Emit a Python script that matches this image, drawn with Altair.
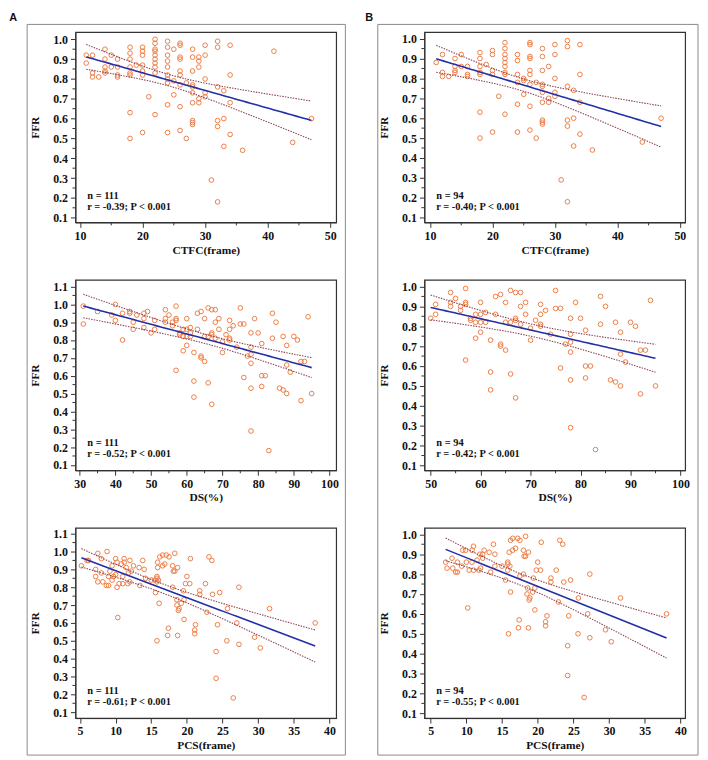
import altair as alt
import numpy as np
import pandas as pd

# ---------------- data ----------------
# Panel A1: CTFC vs FFR (n = 111)
a1_ctfc = [11, 11, 12, 12, 12, 13, 14, 14, 14, 14, 14, 15, 15, 16, 16, 16, 16,
           18, 18, 18, 18, 18, 18, 18, 18, 19, 20, 20, 20, 20, 20, 20, 20, 21,
           22, 22, 22, 22, 22, 22, 22, 22, 22, 22,
           24, 24, 24, 24, 24, 24, 24, 24, 24, 24,
           25, 25, 25, 26, 26, 26, 26, 26, 26, 26, 26, 26, 27, 27,
           28, 28, 28, 28, 28, 28, 28, 28, 28, 28, 29, 29, 29, 29, 29, 30, 30, 30, 30, 30,
           31, 32, 32, 32, 32, 32, 32, 33, 33, 33, 34, 34, 34, 34, 36, 41, 44, 47]
a1_ffr = [0.92, 0.88, 0.92, 0.83, 0.81, 0.81, 0.95, 0.90, 0.86, 0.84, 0.83, 0.92, 0.86, 0.90, 0.86, 0.82, 0.81,
          0.96, 0.93, 0.90, 0.86, 0.83, 0.82, 0.63, 0.50, 0.87, 0.96, 0.94, 0.92, 0.87, 0.84, 0.82, 0.53, 0.71,
          1.00, 0.98, 0.95, 0.94, 0.92, 0.90, 0.88, 0.86, 0.83, 0.62,
          0.99, 0.96, 0.92, 0.89, 0.86, 0.82, 0.80, 0.78, 0.67, 0.53,
          0.95, 0.79, 0.72, 0.98, 0.97, 0.91, 0.90, 0.84, 0.82, 0.77, 0.66, 0.54, 0.78, 0.50,
          0.95, 0.91, 0.84, 0.77, 0.76, 0.73, 0.68, 0.59, 0.58, 0.57, 0.91, 0.89, 0.86, 0.70, 0.68,
          0.97, 0.92, 0.80, 0.73, 0.71,
          0.29, 0.99, 0.96, 0.76, 0.59, 0.56, 0.18, 0.74, 0.60, 0.46, 0.97, 0.82, 0.68, 0.52, 0.44, 0.94, 0.48, 0.60]

# Panel B1: CTFC vs FFR (n = 94)
b1_ctfc = [11, 12, 12, 12, 13, 14, 14, 14, 14, 15, 15, 16, 16, 16,
           18, 18, 18, 18, 18, 18, 18, 19, 20, 20, 20, 20, 20, 21,
           22, 22, 22, 22, 22, 22, 22, 22, 22,
           24, 24, 24, 24, 24, 24, 25, 25, 25,
           26, 26, 26, 26, 26, 26, 26, 26, 26, 27, 27,
           28, 28, 28, 28, 28, 28, 28, 28, 28, 28, 29, 29, 29, 30, 30, 30, 30, 30,
           31, 32, 32, 32, 32, 32, 32, 33, 33, 33, 34, 34, 34, 34, 36, 44, 47]
b1_ffr = [0.88, 0.92, 0.83, 0.81, 0.81, 0.90, 0.86, 0.84, 0.83, 0.92, 0.86, 0.86, 0.82, 0.81,
          0.93, 0.90, 0.86, 0.83, 0.82, 0.63, 0.50, 0.87, 0.94, 0.92, 0.84, 0.82, 0.53, 0.71,
          0.98, 0.95, 0.92, 0.90, 0.88, 0.86, 0.83, 0.82, 0.62,
          0.92, 0.89, 0.82, 0.78, 0.67, 0.53, 0.80, 0.79, 0.72,
          0.98, 0.97, 0.91, 0.90, 0.84, 0.82, 0.77, 0.66, 0.54, 0.78, 0.50,
          0.95, 0.91, 0.84, 0.77, 0.76, 0.73, 0.68, 0.59, 0.58, 0.57, 0.86, 0.70, 0.68,
          0.97, 0.92, 0.80, 0.73, 0.71,
          0.29, 0.99, 0.96, 0.76, 0.59, 0.56, 0.18, 0.74, 0.60, 0.46, 0.97, 0.82, 0.68, 0.52, 0.44, 0.48, 0.60]

# Panel A2: DS vs FFR (n = 111)
a2_ds = [31, 31, 35, 39, 40, 40, 42, 42, 44, 44, 45, 45, 46, 48, 48, 48, 49,
         50, 51, 51, 54, 54, 54, 55, 56, 56, 57, 57, 57, 57, 58, 58, 59, 59, 59,
         60, 60, 60, 60, 61, 61, 61, 62, 62, 62, 63, 63, 64, 64, 64, 65, 65, 65,
         66, 66, 66, 67, 67, 67, 67, 68, 68, 68, 69, 69, 70, 70, 71, 72, 72, 72, 72,
         73, 74, 75, 75, 76, 76, 77, 78, 78, 78, 78, 78, 78, 79, 80, 81, 81, 81, 82, 83,
         84, 84, 85, 86, 87, 87, 88, 88, 88, 89, 90, 91, 92, 92, 93, 94, 95]
a2_ffr = [0.99, 0.89, 0.96, 0.94, 1.00, 0.91, 0.95, 0.80, 0.96, 0.95, 0.90, 0.86, 0.94, 0.95, 0.92, 0.87, 0.96,
          0.84, 0.91, 0.86, 0.97, 0.92, 0.90, 0.94, 0.90, 0.88, 0.99, 0.92, 0.91, 0.63, 0.84, 0.83, 0.86, 0.82, 0.74,
          0.92, 0.86, 0.82, 0.77, 0.87, 0.84, 0.82, 0.73, 0.57, 0.48, 0.95, 0.86, 0.96, 0.71, 0.70, 0.92, 0.82, 0.68,
          0.98, 0.82, 0.56, 0.97, 0.84, 0.83, 0.44, 0.97, 0.90, 0.81, 0.92, 0.86, 0.79, 0.73, 0.83,
          0.91, 0.86, 0.81, 0.80,
          0.88, 0.76, 0.98, 0.89, 0.89, 0.59, 0.71, 0.84, 0.76, 0.72, 0.67, 0.53, 0.29, 0.92, 0.84,
          0.78, 0.60, 0.54, 0.60, 0.18,
          0.95, 0.81, 0.90, 0.53, 0.82, 0.52, 0.77, 0.66, 0.50, 0.62, 0.82, 0.80, 0.68, 0.46, 0.68, 0.93, 0.50]

# Panel B2: DS vs FFR (n = 94)
b2_ds = [50, 51, 51, 54, 54, 54, 55, 56, 56, 57, 57, 57, 57, 58, 58, 59, 59, 59,
         60, 60, 60, 60, 61, 61, 62, 62, 62, 63, 63, 64, 64, 64, 65, 65, 65,
         66, 66, 66, 67, 67, 67, 67, 68, 68, 68, 69, 69, 70, 70, 71, 72, 72, 72, 72,
         73, 74, 75, 75, 76, 76, 77, 78, 78, 78, 78, 78, 78, 79, 80, 81, 81, 81, 82, 83,
         84, 84, 85, 86, 87, 87, 88, 88, 88, 89, 90, 91, 92, 92, 93, 94, 95]
b2_ffr = [0.84, 0.91, 0.86, 0.97, 0.92, 0.90, 0.94, 0.90, 0.88, 0.99, 0.92, 0.91, 0.63, 0.84, 0.83, 0.86, 0.82, 0.74,
          0.92, 0.86, 0.82, 0.77, 0.87, 0.82, 0.73, 0.57, 0.48, 0.95, 0.86, 0.96, 0.71, 0.70, 0.92, 0.82, 0.68,
          0.98, 0.82, 0.56, 0.97, 0.84, 0.83, 0.44, 0.97, 0.90, 0.81, 0.92, 0.86, 0.79, 0.73, 0.83, 0.91, 0.86, 0.81, 0.80,
          0.88, 0.76, 0.98, 0.89, 0.89, 0.59, 0.71, 0.84, 0.76, 0.72, 0.67, 0.53, 0.29, 0.92, 0.84, 0.78, 0.60, 0.54, 0.60, 0.18,
          0.95, 0.81, 0.90, 0.53, 0.82, 0.52, 0.77, 0.66, 0.50, 0.62, 0.82, 0.80, 0.68, 0.46, 0.68, 0.93, 0.50]

# Panel A3: PCS vs FFR (n = 111)
a3_pcs = [5.2, 6.0, 6.2, 7.2, 7.2, 7.5, 7.5, 8.0, 8.0, 8.2, 8.7, 8.8, 9.0, 9.0, 9.2, 9.5, 9.5, 9.7,
          10.0, 10.0, 10.2, 10.2, 10.3, 10.5, 10.8, 11.0, 11.0, 11.2, 11.2, 11.5, 11.7, 11.8, 12.0, 12.0,
          12.2, 12.5, 13.3, 13.4, 13.8, 14.0, 14.2, 15.0, 15.5, 15.6, 15.8, 15.8, 15.8, 15.8, 15.9, 15.9,
          16.0, 16.1, 16.2, 16.6, 16.6, 16.9, 17.1, 17.3, 17.4, 17.5, 18.0, 18.0, 18.1, 18.3, 18.3,
          18.6, 18.6, 18.7, 18.7, 18.8, 18.9, 19.2, 19.5, 19.6, 19.6, 19.8, 20.0, 20.4, 20.5,
          21.1, 21.1, 21.2, 21.8, 21.8, 22.6, 22.8, 23.1, 23.5, 23.6, 24.1, 24.1, 24.3, 24.6,
          25.6, 25.7, 26.5, 27.0, 27.3, 27.3, 29.5, 30.3, 31.6, 38.0]
a3_ffr = [0.92, 0.95, 0.95, 0.90, 0.86, 0.83, 0.99, 0.96, 0.88, 0.83, 0.81, 1.00, 0.81, 0.86, 0.89, 0.84, 0.92, 0.86,
          0.96, 0.87, 0.94, 0.80, 0.63, 0.82, 0.93, 0.86, 0.82, 0.96, 0.94, 0.91, 0.82, 0.88, 0.95, 0.83,
          0.89, 0.92, 0.91, 0.81, 0.95, 0.90, 0.85, 0.84, 0.84, 0.77, 0.86, 0.85, 0.83, 0.50, 0.94, 0.91,
          0.84, 0.71, 0.97, 0.98, 0.92, 0.93, 0.98, 0.53, 0.57, 0.97, 0.80, 0.92, 0.89, 0.99, 0.89,
          0.73, 0.70, 0.91, 0.53, 0.67, 0.68, 0.71, 0.78, 0.73, 0.62, 0.82, 0.86, 0.82, 0.96,
          0.56, 0.54, 0.59, 0.78, 0.76, 0.82, 0.66, 0.97, 0.95, 0.76, 0.44, 0.29, 0.59, 0.77,
          0.50, 0.68, 0.18, 0.60, 0.80, 0.48, 0.52, 0.46, 0.68, 0.60]

# Panel B3: PCS vs FFR (n = 94)
b3_pcs = [7.1, 7.3, 8.0, 8.1, 8.5, 8.75, 8.75, 9.35, 9.5, 9.9, 10.0, 10.2, 10.4, 10.8, 10.8, 11.0, 11.0,
          11.5, 11.75, 11.9, 12.0, 12.3, 12.3, 12.5, 13.2, 13.4, 13.8, 14.0, 14.0, 15.0, 15.5,
          15.8, 15.8, 15.8, 15.9, 16.0, 16.1, 16.2, 16.2, 16.5, 16.5, 16.9, 17.2, 17.3, 17.4, 17.5, 17.5,
          18.0, 18.0, 18.1, 18.3, 18.3, 18.6, 18.5, 18.7, 18.7, 18.8, 18.9, 19.3, 19.4, 19.6, 19.6, 19.8,
          20.0, 20.4, 20.5, 21.1, 21.1, 21.3, 21.85, 21.85, 22.6, 22.9, 23.1, 23.5, 23.65,
          24.2, 24.2, 24.35, 24.6, 25.65, 25.7, 26.5, 27.0, 27.3, 27.3, 29.5, 30.3, 31.6, 38.05]
b3_ffr = [0.86, 0.83, 0.88, 0.83, 0.81, 0.81, 0.86, 0.84, 0.92, 0.92, 0.86, 0.63, 0.82, 0.86, 0.92, 0.94, 0.82,
          0.87, 0.82, 0.90, 0.83, 0.88, 0.90, 0.92, 0.91, 0.81, 0.95, 0.90, 0.84, 0.84, 0.77,
          0.86, 0.85, 0.82, 0.50, 0.91, 0.84, 0.71, 0.97, 0.98, 0.92, 0.93, 0.98, 0.53, 0.57, 0.97, 0.79,
          0.80, 0.92, 0.89, 0.99, 0.89, 0.73, 0.70, 0.91, 0.53, 0.67, 0.68, 0.71, 0.78, 0.73, 0.62, 0.82,
          0.86, 0.82, 0.96, 0.56, 0.54, 0.59, 0.78, 0.76, 0.82, 0.66, 0.97, 0.95, 0.76,
          0.44, 0.29, 0.59, 0.77, 0.50, 0.68, 0.18, 0.60, 0.80, 0.48, 0.52, 0.46, 0.68, 0.60]

stat_labels = {
    "a1": ("n = 111", "r = -0.39; P < 0.001"),
    "b1": ("n = 94", "r = -0.40; P < 0.001"),
    "a2": ("n = 111", "r = -0.52; P < 0.001"),
    "b2": ("n = 94", "r = -0.42; P < 0.001"),
    "a3": ("n = 111", "r = -0.61; P < 0.001"),
    "b3": ("n = 94", "r = -0.55; P < 0.001"),
}

# ---------------- styling ----------------
FONT = "Liberation Serif"
ORANGE = "#EE7D45"
BLUE = "#2230A8"
CI_COL = "#8E4558"
AX = "#333333"
W, H = 263, 192


def fit_frames(xs, ys):
    x = np.asarray(xs, float)
    y = np.asarray(ys, float)
    n = len(x)
    b, a = np.polyfit(x, y, 1)
    xx = np.linspace(x.min(), x.max(), 60)
    yhat = a + b * xx
    resid = y - (a + b * x)
    s = np.sqrt((resid ** 2).sum() / (n - 2))
    sxx = ((x - x.mean()) ** 2).sum()
    se = s * np.sqrt(1.0 / n + (xx - x.mean()) ** 2 / sxx)
    t = 1.98
    fit = pd.DataFrame({"x": xx, "y": yhat})
    hi = pd.DataFrame({"x": xx, "y": yhat + t * se})
    lo = pd.DataFrame({"x": xx, "y": yhat - t * se})
    return fit, hi, lo


def panel(xs, ys, xdom, xticks, xminor, ydom, yticks, yminor, xtitle, key, deco=()):
    xsc = alt.Scale(domain=xdom, nice=False, zero=False)
    ysc = alt.Scale(domain=ydom, nice=False, zero=False)
    xax = alt.Axis(values=xticks, tickCount=40, format="d", title=xtitle,
                   labelOverlap=False, labelFlush=False)
    yax = alt.Axis(values=yticks, tickCount=40, format=".1f", title="FFR",
                   labelOverlap=False, labelFlush=False)
    pts = alt.Chart(pd.DataFrame({"x": xs, "y": ys})).mark_point(
        shape="circle", filled=False, color=ORANGE, size=22, strokeWidth=1, opacity=1
    ).encode(
        x=alt.X("x:Q", scale=xsc, axis=xax),
        y=alt.Y("y:Q", scale=ysc, axis=yax),
    )
    fit, hi, lo = fit_frames(xs, ys)
    fit_l = alt.Chart(fit).mark_line(color=BLUE, strokeWidth=1.6).encode(x="x:Q", y="y:Q")
    hi_l = alt.Chart(hi).mark_line(color=CI_COL, strokeWidth=1.1, strokeDash=[1.5, 1.2]).encode(x="x:Q", y="y:Q")
    lo_l = alt.Chart(lo).mark_line(color=CI_COL, strokeWidth=1.1, strokeDash=[1.5, 1.2]).encode(x="x:Q", y="y:Q")
    layers = [pts, fit_l, hi_l, lo_l]
    layers.append(
        alt.Chart(pd.DataFrame({"y": yminor})).mark_rule(color=AX, strokeWidth=1).encode(
            y="y:Q", x=alt.value(-3), x2=alt.value(0))
    )
    if xminor:
        layers.append(
            alt.Chart(pd.DataFrame({"x": xminor})).mark_rule(color=AX, strokeWidth=1).encode(
                x="x:Q", y=alt.value(H), y2=alt.value(H + 3))
        )
    ntxt, rtxt = stat_labels[key]
    for txt, py in ((ntxt, 165), (rtxt, 176)):
        layers.append(
            alt.Chart(pd.DataFrame({"t": [txt]})).mark_text(
                font=FONT, fontWeight="bold", fontSize=10.5, align="left", baseline="middle", color="#111"
            ).encode(x=alt.value(12), y=alt.value(py), text="t:N")
        )
    layers.extend(deco)
    return alt.layer(*layers).properties(width=W, height=H)


def decorations(letter, box_left, box_right, letter_x):
    box = alt.Chart(pd.DataFrame({"k": [0]})).mark_rect(
        fillOpacity=0, stroke="#8a8a8a", strokeWidth=1
    ).encode(x=alt.value(box_left), x2=alt.value(box_right), y=alt.value(-7.7), y2=alt.value(729.3))
    lab = alt.Chart(pd.DataFrame({"t": [letter]})).mark_text(
        font="Liberation Sans", fontWeight="bold", fontSize=11, align="left", baseline="top", color="#111"
    ).encode(x=alt.value(letter_x), y=alt.value(-19.7), text="t:N")
    return (box, lab)


y_ticks_10 = [0.1, 0.2, 0.3, 0.4, 0.5, 0.6, 0.7, 0.8, 0.9, 1.0]
y_ticks_11 = y_ticks_10 + [1.1]
y_minor_10 = [0.15, 0.25, 0.35, 0.45, 0.55, 0.65, 0.75, 0.85, 0.95]
y_minor_11 = y_minor_10 + [1.05]

a1 = panel(a1_ctfc, a1_ffr, [9.27, 50.95], [10, 20, 30, 40, 50], [15, 25, 35, 45],
           [0.0765, 1.0365], y_ticks_10, y_minor_10, "CTFC(frame)", "a1",
           decorations("A", -48.7, 272.3, -66.7))
b1 = panel(b1_ctfc, b1_ffr, [9.1, 50.85], [10, 20, 30, 40, 50], [15, 25, 35, 45],
           [0.076, 1.033], y_ticks_10, y_minor_10, "CTFC(frame)", "b1",
           decorations("B", -47, 276, -59.7))
a2 = panel(a2_ds, a2_ffr, [28.8, 101.86], [30, 40, 50, 60, 70, 80, 90, 100], [35, 45, 55, 65, 75, 85, 95],
           [0.070, 1.137], y_ticks_11, y_minor_11, "DS(%)", "a2")
b2 = panel(b2_ds, b2_ffr, [48.75, 100.93], [50, 60, 70, 80, 90, 100], [55, 65, 75, 85, 95],
           [0.076, 1.033], y_ticks_10, y_minor_10, "DS(%)", "b2")
a3 = panel(a3_pcs, a3_ffr, [4.36, 40.94], [5, 10, 15, 20, 25, 30, 35, 40], [],
           [0.067, 1.133], y_ticks_11, y_minor_11, "PCS(frame)", "a3")
b3 = panel(b3_pcs, b3_ffr, [4.125, 40.65], [5, 10, 15, 20, 25, 30, 35, 40], [],
           [0.076, 1.033], y_ticks_10, y_minor_10, "PCS(frame)", "b3")

chart = alt.concat(
    a1, b1, a2, b2, a3, b3,
    columns=2,
    spacing={"row": 58, "column": 89},
    bounds="flush",
).properties(
    padding={"left": 0, "top": 0, "right": 0, "bottom": 0}
).configure_view(
    stroke=AX, strokeWidth=1.2
).configure_axis(
    grid=False, domainColor=AX, tickColor=AX, tickSize=5, tickWidth=1,
    labelFont=FONT, labelFontWeight="bold", labelFontSize=12, labelColor="#111", labelPadding=3,
    labelOverlap=False, labelFlush=False, labelBound=False,
    titleFont=FONT, titleFontWeight="bold", titleFontSize=11.5, titleColor="#111",
).configure_axisY(titlePadding=12).configure_axisX(titlePadding=3)

chart.save("out.html", embed_options={"renderer": "svg", "actions": False})
